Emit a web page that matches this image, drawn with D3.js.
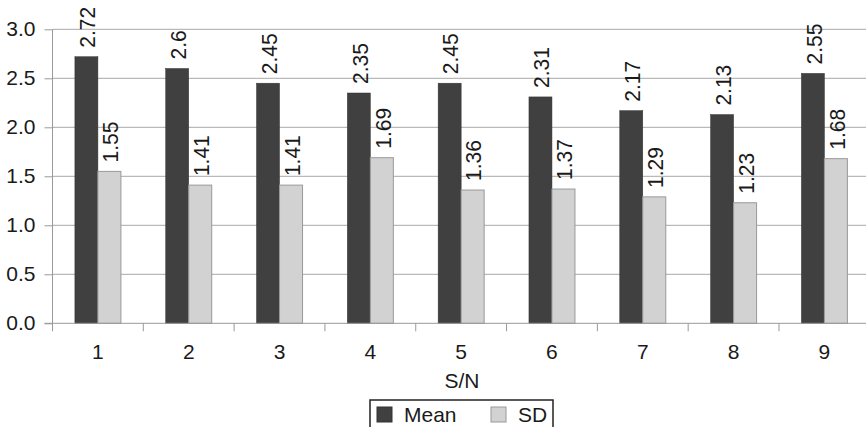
<!DOCTYPE html>
<html><head><meta charset="utf-8">
<script src="https://cdn.jsdelivr.net/npm/d3@7"></script>
<style>body{margin:0;background:#fff}svg{display:block}text{font-family:"Liberation Sans",Arial,sans-serif;fill:#1a1a1a}</style>
</head><body>
<script>
const categories = ["1","2","3","4","5","6","7","8","9"];
const meanValues = [2.72,2.6,2.45,2.35,2.45,2.31,2.17,2.13,2.55];
const sdValues = [1.55,1.41,1.41,1.69,1.36,1.37,1.29,1.23,1.68];
const seriesNames = ["Mean","SD"];
const yTicks = [0,0.5,1,1.5,2,2.5,3];

const W=866,H=427;
const svg=d3.select("body").append("svg").attr("width",W).attr("height",H);
const pLeft=52.5,pRight=869.8,pTop=29.3,pBottom=323.3;
const x=d3.scaleBand().domain(categories).range([pLeft,pRight]).paddingInner(0).paddingOuter(0);
const y=d3.scaleLinear().domain([0,3]).range([pBottom,pTop]);
const barW=23;
const colors={Mean:"#404040",SD:"#d2d2d2"};

// gridlines
svg.append("g").selectAll("line").data(yTicks.slice(1)).join("line")
 .attr("x1",pLeft).attr("x2",W).attr("y1",d=>y(d)).attr("y2",d=>y(d))
 .attr("stroke","#a8a8a8").attr("stroke-width",1);

// y axis
const yAxis=svg.append("g").attr("transform",`translate(${pLeft},0)`)
 .call(d3.axisLeft(y).tickValues(yTicks).tickFormat(d3.format(".1f")).tickSize(8).tickPadding(9));
yAxis.select(".domain").attr("stroke","#999").attr("d",`M0,${pTop}V${pBottom}`);
yAxis.selectAll(".tick line").attr("stroke","#999");
yAxis.selectAll(".tick text").attr("font-size",20).style("font-family","Liberation Sans, Arial, sans-serif").attr("fill","#1a1a1a")
 .each(function(){const t=d3.select(this);const xx=+t.attr("x");t.attr("transform",`translate(${xx},0) scale(1.05,1) translate(${-xx},0)`);});

// bars
const g=svg.append("g");
g.selectAll("rect.mean").data(categories).join("rect").attr("class","mean")
 .attr("x",(d)=>x(d)+x.bandwidth()/2-barW).attr("width",barW)
 .attr("y",(d,i)=>y(meanValues[i])).attr("height",(d,i)=>y(0)-y(meanValues[i]))
 .attr("fill",colors.Mean).attr("stroke","#333").attr("stroke-width",0.5);
g.selectAll("rect.sd").data(categories).join("rect").attr("class","sd")
 .attr("x",(d)=>x(d)+x.bandwidth()/2).attr("width",barW)
 .attr("y",(d,i)=>y(sdValues[i])).attr("height",(d,i)=>y(0)-y(sdValues[i]))
 .attr("fill",colors.SD).attr("stroke","#999").attr("stroke-width",1);

// x axis
const xAxis=svg.append("g").attr("transform",`translate(0,${pBottom})`);
xAxis.append("line").attr("x1",pLeft-8).attr("x2",W).attr("y1",0).attr("y2",0).attr("stroke","#999");
const bounds=categories.map(c=>x(c)).concat([pRight]);
xAxis.selectAll("line.tk").data(bounds).join("line").attr("class","tk")
 .attr("x1",d=>d).attr("x2",d=>d).attr("y1",0).attr("y2",8).attr("stroke","#999");
xAxis.selectAll("text").data(categories).join("text")
 .attr("transform",d=>`translate(${x(d)+x.bandwidth()/2},36) scale(1.05,1)`)
 .attr("text-anchor","middle").attr("font-size",20).text(d=>d);

// value labels
function labels(vals,off){
 g.selectAll(null).data(categories).join("text")
  .attr("transform",(d,i)=>`translate(${x(d)+x.bandwidth()/2+off+0.5},${y(vals[i])-9}) scale(1.08,1) rotate(-90)`)
  .attr("dy","0.36em").attr("font-size",21).text((d,i)=>String(vals[i]));
}
labels(meanValues,-barW/2);
labels(sdValues,barW/2);

// x label
svg.append("text").attr("transform",`translate(462,388) scale(1.05,1)`).attr("text-anchor","middle").attr("font-size",20).text("S/N");

// legend
const lg=svg.append("g");
lg.append("rect").attr("x",370).attr("y",400).attr("width",183).attr("height",40).attr("fill","#fff").attr("stroke","#222").attr("stroke-width",1.5);
const items=[{n:"Mean",x:377},{n:"SD",x:491}];
lg.selectAll("rect.sw").data(items).join("rect").attr("class","sw")
 .attr("x",d=>d.x).attr("y",407).attr("width",15).attr("height",15)
 .attr("fill",d=>colors[d.n]).attr("stroke",d=>d.n==="SD"?"#999":"#333");
lg.selectAll("text").data(items).join("text")
 .attr("transform",d=>`translate(${d.x+27},422) scale(1.05,1)`).attr("font-size",20).text(d=>d.n);
</script>
</body></html>
